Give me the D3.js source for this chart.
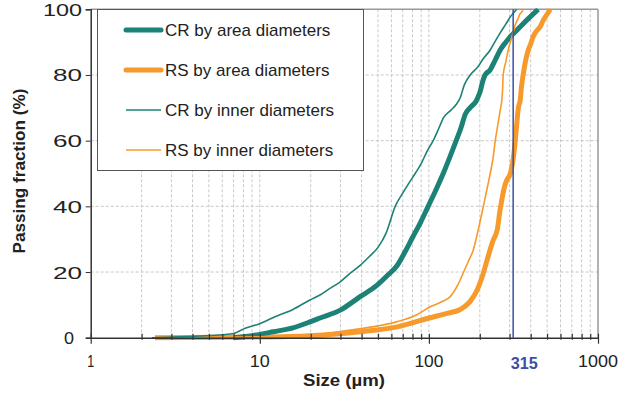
<!DOCTYPE html>
<html><head><meta charset="utf-8">
<script src="https://cdn.jsdelivr.net/npm/d3@7"></script>
<style>body{margin:0;background:#fff;} svg{display:block;font-family:"Liberation Sans",Arial,sans-serif;}</style>
</head><body><svg id="c" width="619" height="394"></svg>
<script>
// Data: [size µm, passing %]
const crArea = [[7,0],[8,0.3],[10,1],[12,1.8],[15.7,3],[19.8,4.8],[22.7,6],[29.9,8.4],[39.2,12.5],[49.4,16],[57,19],[64.9,22],[72,26],[80,30.5],[89,35],[99,40],[110,45],[121.5,50],[133,55],[145,60],[155,64],[164,68],[175,70],[190,72],[196,73.5],[201,75],[208,78],[215,80],[230,81.5],[247,84.6],[264,87.6],[285,90],[303,91.7],[325,93.2],[347,94.7],[390,97.3],[443,100]];
const rsArea = [[2.4,0],[10,0.2],[19.8,0.6],[39.2,1.8],[64.9,3.3],[100,6],[130,7.5],[153,8.6],[175,11],[193,14.5],[208,19],[221,23.7],[240,29.7],[254,33],[262,38],[270,42],[280,46],[289,48],[303,50],[312,53],[318,56],[324,60],[332,66],[338,70],[347,72.4],[352,76],[361,80],[372,84],[387,87.6],[400,89.5],[414,91.7],[435,93.5],[455,94.7],[475,96.7],[500,98.5],[522,100]];
const crInner = [[2.3,0],[4.4,0.5],[6,0.9],[7,1.3],[8.2,2.9],[9.9,4.2],[12.3,6.4],[15.7,8.6],[19.8,11.5],[22.7,13],[26,15],[29.9,17],[34,19.5],[39.2,22],[44,24.5],[50,27.5],[56,32],[63.2,40],[70,44],[76,47],[83,50],[90,53],[98,57],[106,60],[115,64],[122,67],[135,69.3],[145,71],[153,73],[162,77],[175.5,80],[195,82.5],[210,85],[230.5,87.6],[245,90],[264,92.8],[285,95.5],[303,97.7],[318,99],[330,100]];
const rsInner = [[2.4,0],[10,0.3],[20,0.8],[34.2,2.3],[50,3.6],[64.9,4.9],[85,7],[101.8,9.4],[120,11],[133.7,12.5],[148,16],[159.6,19.7],[172,23.5],[182.9,26.7],[190,30],[200,35],[210,40],[220,45],[230.5,50],[240,55],[246.8,60],[256,65],[264,69.3],[270,72.4],[273,76],[275,80],[285,84],[294.5,87.6],[305,90.5],[315,93],[325,95.5],[336,97],[345,98.5],[352,99],[361,100]];
const xTickLabels = [1,10,100,1000];
const yTicks = [0,20,40,60,80,100];
const markValue = 315;
const legendLabels = ["CR by area diameters","RS by area diameters","CR by inner diameters","RS by inner diameters"];

const teal = "#1c8276", orange = "#f79a2c", blue = "#3a4ea8";
const svg = d3.select("#c");
const m = {l:90.7, r:598, t:9.3, b:337.7};
const x = d3.scaleLog().domain([1,1000]).range([m.l, m.r]);
const y = d3.scaleLinear().domain([0,100]).range([m.b, m.t]);

const minor = [];
for (let d = 1; d < 1000; d *= 10) for (let k = 1; k <= 9; k++) minor.push(d*k);
minor.push(1000);

// grid
const g = svg.append("g");
g.selectAll(".vg").data(minor.filter(v => v > 1 && v < 1000)).join("line")
  .attr("x1", d => x(d)).attr("x2", d => x(d)).attr("y1", m.t).attr("y2", m.b)
  .attr("stroke", "#c8c8c8").attr("stroke-width", 1).attr("stroke-dasharray", "3,2");
g.selectAll(".hg").data(yTicks.filter(v => v > 0 && v < 100)).join("line")
  .attr("x1", m.l).attr("x2", m.r).attr("y1", d => y(d)).attr("y2", d => y(d))
  .attr("stroke", "#c8c8c8").attr("stroke-width", 1).attr("stroke-dasharray", "3,2");

svg.append("line").attr("x1", m.l).attr("x2", m.r).attr("y1", m.t).attr("y2", m.t).attr("stroke", "#999").attr("stroke-width", 1.5);
svg.append("line").attr("x1", m.r).attr("x2", m.r).attr("y1", m.t).attr("y2", m.b).attr("stroke", "#999").attr("stroke-width", 1.5);

const line = d3.line().x(d => x(d[0])).y(d => y(d[1])).curve(d3.curveMonotoneX);
const series = [
  {data: crArea, color: teal, w: 5},
  {data: rsArea, color: orange, w: 5},
  {data: crInner, color: teal, w: 1.6},
  {data: rsInner, color: orange, w: 1.6}
];
svg.append("clipPath").attr("id","pc").append("rect")
  .attr("x", m.l).attr("y", m.t - 1).attr("width", m.r - m.l).attr("height", m.b - m.t + 4);
[series[1], series[0], series[3], series[2]].forEach(s => {
  svg.append("path").attr("d", line(s.data)).attr("fill", "none")
    .attr("stroke", s.color).attr("stroke-width", s.w).attr("stroke-linejoin", "round")
    .attr("clip-path", "url(#pc)");
});

svg.append("line").attr("x1", x(markValue)).attr("x2", x(markValue)).attr("y1", m.t).attr("y2", m.b)
  .attr("stroke", blue).attr("stroke-width", 1.5);

// axes
const xAxis = d3.axisBottom(x).tickValues(minor).tickSize(0).tickFormat("");
const xa = svg.append("g").attr("transform", `translate(0,${m.b})`).call(xAxis);
xa.select(".domain").attr("stroke", "#333").attr("stroke-width", 1.5);
xa.selectAll(".tick line").remove();
xa.selectAll(".tick").append("line")
  .attr("y1", -4)
  .attr("y2", d => [1,10,100,1000].includes(d) ? 6 : 2)
  .attr("stroke", "#333").attr("stroke-width", 1.2);
const xLabW = {1:7, 10:20, 100:29, 1000:40};
svg.selectAll(".xl").data(xTickLabels).join("text")
  .attr("x", d => x(d)).attr("y", 367).attr("text-anchor", "middle")
  .attr("font-size", 16.5).attr("fill", "#222")
  .attr("textLength", d => xLabW[d]).attr("lengthAdjust", "spacingAndGlyphs").text(d => d);
svg.append("text").attr("x", x(markValue) + 11).attr("y", 368.5).attr("text-anchor", "middle")
  .attr("font-size", 17).attr("font-weight", "bold").attr("fill", blue)
  .attr("textLength", 27).attr("lengthAdjust", "spacingAndGlyphs").text(markValue);

const yAxis = d3.axisLeft(y).tickValues(yTicks).tickSize(5).tickFormat("");
const ya = svg.append("g").attr("transform", `translate(${m.l},0)`).call(yAxis);
ya.select(".domain").attr("stroke", "#333").attr("stroke-width", 1.5);
ya.selectAll(".tick line").attr("stroke", "#333");
const yLabW = d => String(d).length === 1 ? 10 : (String(d).length === 2 ? 29 : 39);
svg.selectAll(".yl").data(yTicks).join("text")
  .attr("x", d => d === 0 ? 74 : 82).attr("y", d => y(d) + 6.5).attr("text-anchor", "end")
  .attr("font-size", 16.5).attr("fill", "#222")
  .attr("textLength", yLabW).attr("lengthAdjust", "spacingAndGlyphs").text(d => d);

// titles
svg.append("text").attr("x", 344).attr("y", 386).attr("text-anchor", "middle")
  .attr("font-size", 17).attr("font-weight", "bold").attr("fill", "#222")
  .attr("textLength", 82).attr("lengthAdjust", "spacingAndGlyphs").text("Size (µm)");
svg.append("text").attr("transform", "translate(25,171) rotate(-90)").attr("text-anchor", "middle")
  .attr("font-size", 16.5).attr("font-weight", "bold").attr("fill", "#222")
  .attr("textLength", 165).attr("lengthAdjust", "spacingAndGlyphs").text("Passing fraction (%)");

// legend
svg.append("rect").attr("x", 97.5).attr("y", 9.5).attr("width", 266).attr("height", 161)
  .attr("fill", "#fff").attr("stroke", "#555").attr("stroke-width", 1);
const ly = d3.scalePoint().domain(legendLabels).range([30, 150]);
legendLabels.forEach((lab, i) => {
  const s = series[i];
  svg.append("line").attr("x1", 126).attr("x2", 161).attr("y1", ly(lab)).attr("y2", ly(lab))
    .attr("stroke", s.color).attr("stroke-width", s.w > 2 ? 5 : 1.6).attr("stroke-linecap", s.w > 2 ? "round" : "butt");
  svg.append("text").attr("x", 165).attr("y", ly(lab) + 6).attr("font-size", 17).attr("fill", "#222").text(lab);
});
</script></body></html>
